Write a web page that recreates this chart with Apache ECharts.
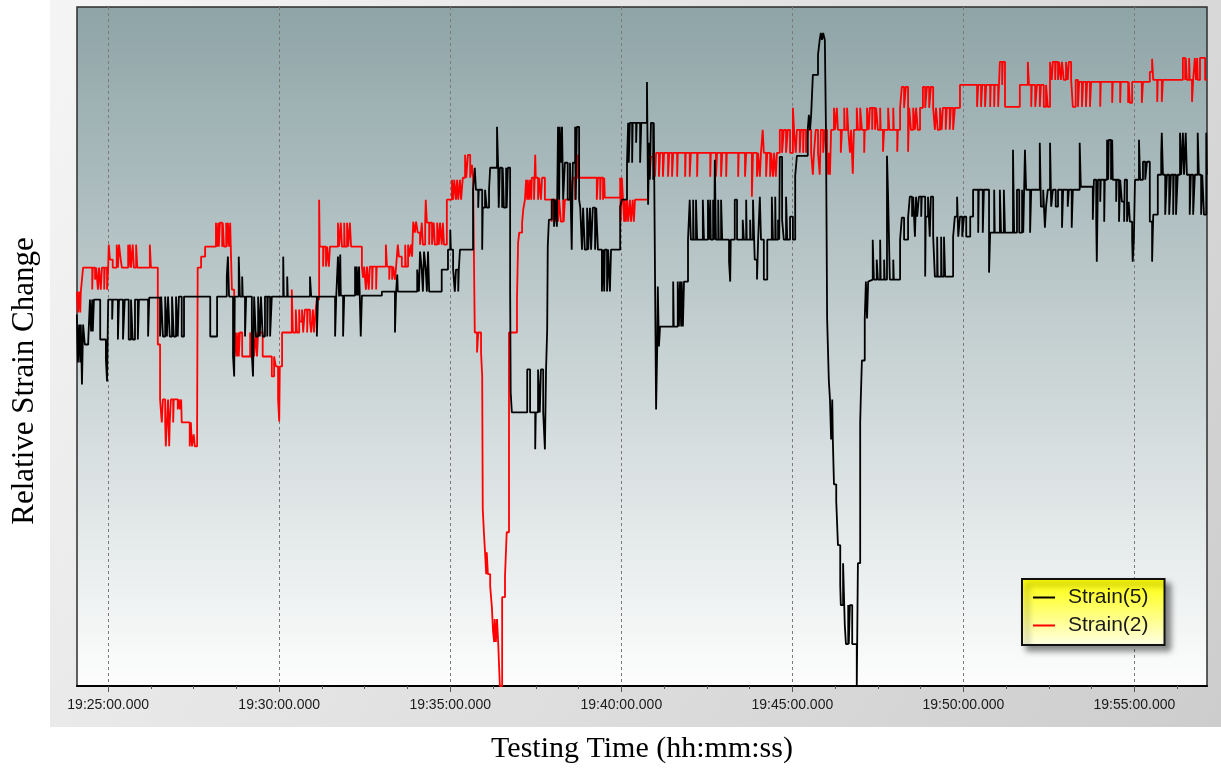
<!DOCTYPE html>
<html>
<head>
<meta charset="utf-8">
<script src="https://cdn.jsdelivr.net/npm/echarts@6/dist/echarts.min.js"></script>
<style>
  html, body { margin: 0; padding: 0; background: #ffffff; }
  #chart { width: 1221px; height: 769px; }
</style>
</head>
<body>
<div id="chart"></div>
<script>
// Strain gauge logs: each entry is [seconds after 19:24:00, relative strain reading].
// Readings hold until the next entry (sample-and-hold logger output).
const strain5 = [
[5,372],[7,324],[9,362],[11,324],[12,362],[14,302],[16,362],[19,342],[25,345],[28,387],[30,355],[32,387],[33,355],[35,387],
[46,347],[56,327],[58,305],[60,387],[67,367],[68,387],[77,347],[79,387],[86,347],[89,387],[96,347],[100,387],[103,347],
[107,387],[112,347],[114,387],[130,350],[132,389],[151,350],[153,390],[156,350],[160,390],[163,350],[165,390],[168,350],
[172,390],[175,350],[179,390],[182,350],[184,390],[189,350],[193,390],[239,350],[251,390],[268,410],[270,430],[272,390],
[279,330],[281,310],[282,390],[289,430],[291,390],[295,410],[296,390],[300,350],[302,390],[312,332],[314,310],[316,390],
[319,350],[323,390],[326,350],[328,390],[331,350],[335,390],[339,350],[340,390],[344,350],[347,390],[367,430],[368,390],
[374,410],[375,390],[414,410],[416,390],[426,350],[428,390],[458,350],[460,390],[463,430],[465,390],[467,432],[468,391],
[472,350],[474,391],[493,420],[495,391],[496,420],[498,391],[500,420],[503,350],[505,391],[540,395],[563,354],[565,395],
[567,412],[568,395],[602,417],[605,395],[607,435],[610,417],[612,395],[614,435],[617,417],[619,395],[621,435],[623,395],
[645,417],[656,437],[660,457],[661,437],[665,417],[668,395],[670,417],[674,395],[675,417],[677,437],[700,497],[703,519],
[705,497],[709,479],[710,497],[716,437],[717,479],[721,497],[724,479],[728,497],[730,519],[742,560],[744,519],[745,479],
[747,519],[751,479],[752,519],[754,479],[758,519],[759,479],[761,519],[765,397],[766,294],[768,274],[795,317],[800,274],
[809,237],[810,274],[814,317],[817,274],[819,317],[823,274],[826,237],[828,317],[830,357],[831,440],[833,467],[838,487],
[842,460],[844,487],[847,460],[849,560],[851,487],[852,560],[854,524],[856,560],[858,487],[861,524],[866,487],[870,524],
[873,437],[875,524],[879,560],[880,487],[882,560],[886,487],[888,479],[891,437],[893,479],[896,437],[900,479],[902,437],
[905,479],[907,437],[910,479],[914,437],[916,479],[919,437],[926,395],[928,437],[930,395],[931,437],[935,395],[937,437],
[940,395],[942,437],[958,480],[961,487],[970,524],[972,564],[973,524],[975,564],[979,524],[980,564],[986,544],[987,564],
[993,524],[995,564],[1005,605],[1007,482],[1009,544],[1010,507],[1012,564],[1016,507],[1017,564],[1019,420],[1021,277],
[1023,340],[1024,400],[1026,340],[1028,360],[1051,405],[1052,360],[1059,405],[1061,360],[1063,405],[1065,360],[1066,405],
[1068,360],[1070,405],[1077,447],[1080,487],[1082,447],[1086,487],[1087,447],[1091,487],[1093,447],[1103,487],[1105,447],
[1112,487],[1114,447],[1116,487],[1117,447],[1121,487],[1123,447],[1124,527],[1126,447],[1130,487],[1131,447],[1135,487],
[1137,447],[1149,425],[1151,405],[1152,447],[1159,487],[1163,447],[1173,467],[1175,447],[1179,487],[1180,447],[1186,467],
[1187,447],[1191,487],[1193,447],[1194,427],[1198,407],[1200,447],[1203,490],[1205,447],[1210,407],[1216,447],[1224,490],
[1226,447],[1230,490],[1231,447],[1235,467],[1237,447],[1238,530],[1242,467],[1245,447],[1249,490],[1251,447],[1256,470],
[1261,447],[1265,511],[1268,531],[1287,557],[1289,572],[1291,557],[1293,572],[1296,612],[1305,632],[1308,647],[1310,654],
[1312,647],[1314,654],[1317,647],[1319,555],[1321,368],[1324,306],[1326,287],[1328,247],[1330,287],[1331,247],[1333,202],
[1337,185],[1340,141],[1344,101],[1345,81],[1349,123],[1351,81],[1352,61],[1354,42],[1358,81],[1359,42],[1361,81],
[1365,42],[1373,0],[1375,123],[1379,264],[1380,287],[1382,326],[1387,368],[1389,405],[1391,368],[1393,405],[1396,407],
[1401,447],[1403,407],[1408,427],[1410,407],[1414,447],[1415,407],[1421,427],[1422,407],[1426,531],[1428,489],[1431,407],
[1437,427],[1438,407],[1449,447],[1452,469],[1456,447],[1463,469],[1466,490],[1470,470],[1472,490],[1475,450],[1477,490],
[1479,470],[1482,490],[1486,470],[1487,490],[1493,410],[1494,470],[1498,490],[1501,450],[1503,490],[1507,450],[1510,410],
[1514,450],[1515,410],[1521,450],[1522,410],[1526,450],[1528,410],[1542,450],[1545,470],[1549,490],[1551,450],[1554,470],
[1558,450],[1561,470],[1565,450],[1572,470],[1577,497],[1586,454],[1587,497],[1594,454],[1596,497],[1605,414],[1607,454],
[1614,497],[1615,454],[1624,497],[1626,454],[1631,497],[1633,454],[1647,537],[1649,454],[1654,497],[1658,454],[1663,497],
[1665,454],[1668,537],[1670,497],[1677,454],[1679,497],[1694,544],[1696,480],[1700,497],[1703,459],[1705,480],[1708,497],
[1712,544],[1714,480],[1717,497],[1722,480],[1726,497],[1733,459],[1735,497],[1743,480],[1745,497],[1750,459],[1752,497],
[1764,544],[1766,500],[1787,467],[1789,507],[1793,467],[1794,425],[1796,507],[1800,485],[1801,507],[1807,465],[1808,507],
[1812,547],[1814,507],[1815,547],[1819,507],[1821,547],[1822,507],[1828,485],[1829,507],[1833,465],[1835,507],[1838,485],
[1842,465],[1843,507],[1847,465],[1850,485],[1852,465],[1856,447],[1857,425],[1859,447],[1861,507],[1868,547],[1870,507],
[1875,525],[1879,507],[1882,525],[1887,465],[1891,425],[1893,472],[1901,512],[1907,532],[1908,554],[1910,512],[1914,472],
[1917,512],[1921,472],[1924,512],[1928,472],[1929,512],[1933,472],[1936,512],[1940,554],[1942,512],[1945,554],[1947,512],
[1950,554],[1952,512],[1957,472],[1959,512],[1963,472],[1966,512],[1971,554],[1973,512],[1977,472],[1979,512],[1982,472],
[1986,554],[1987,512]
];

const strain2 = [
[5,395],[7,374],[9,395],[11,374],[12,395],[14,407],[16,419],[32,397],[33,419],[37,407],[39,419],[42,397],[44,419],[47,397],
[49,419],[53,397],[54,419],[58,397],[60,419],[61,442],[63,427],[68,419],[75,442],[77,419],[79,442],[82,427],[84,419],
[95,442],[96,419],[98,442],[100,419],[103,442],[105,419],[109,442],[111,419],[133,442],[135,419],[147,342],[151,287],
[154,264],[156,287],[160,264],[161,240],[163,264],[165,287],[167,240],[168,264],[170,287],[174,264],[175,287],[182,277],
[184,287],[186,277],[188,287],[189,264],[203,240],[205,264],[207,240],[210,252],[212,240],[216,264],[217,419],[223,430],
[230,440],[249,464],[251,440],[253,464],[254,440],[256,464],[260,440],[261,464],[263,440],[267,464],[268,440],[270,464],
[272,440],[274,464],[275,440],[277,397],[281,354],[282,330],[284,354],[286,330],[288,354],[289,330],[291,354],[295,330],
[309,354],[310,330],[314,354],[316,330],[319,354],[321,330],[323,354],[331,330],[347,310],[351,330],[354,320],[358,287],
[360,265],[361,320],[365,354],[382,397],[384,354],[389,377],[391,354],[395,377],[396,365],[400,377],[402,354],[405,377],
[409,354],[410,377],[414,365],[416,354],[419,377],[421,354],[424,377],[426,387],[430,487],[431,440],[437,420],[438,440],
[442,420],[444,440],[447,420],[449,440],[463,464],[465,440],[468,464],[470,440],[474,464],[475,440],[479,464],[481,440],
[484,464],[486,440],[505,420],[507,409],[509,420],[512,397],[514,420],[517,397],[519,420],[523,397],[524,420],[530,397],
[531,420],[547,442],[549,420],[553,407],[554,420],[558,407],[560,420],[563,407],[565,420],[568,442],[570,430],[575,420],
[581,442],[582,420],[586,442],[588,430],[591,442],[593,430],[595,465],[598,454],[600,465],[603,454],[607,442],[610,464],
[612,442],[616,464],[617,487],[619,464],[623,442],[624,464],[628,442],[631,464],[633,442],[637,464],[640,442],[642,464],
[645,442],[647,464],[649,442],[654,487],[663,507],[665,487],[667,507],[670,487],[672,507],[674,487],[677,507],[679,487],
[682,509],[686,532],[688,509],[691,532],[695,509],[698,522],[700,509],[703,354],[707,334],[709,354],[714,334],[716,310],
[717,177],[719,154],[721,134],[723,112],[724,134],[726,112],[730,100],[733,79],[735,55],[737,44],[738,67],[740,44],
[742,67],[744,44],[747,0],[751,89],[756,110],[759,154],[763,354],[777,387],[779,444],[781,454],[786,464],[788,477],
[791,487],[793,507],[795,487],[796,507],[798,487],[800,507],[802,487],[803,509],[807,487],[809,532],[810,509],[814,487],
[816,509],[819,487],[821,509],[826,487],[838,465],[840,487],[844,465],[845,487],[849,465],[851,487],[854,465],[858,487],
[859,465],[861,487],[870,509],[872,487],[875,509],[879,487],[880,509],[884,532],[886,509],[917,487],[919,509],[923,487],
[924,509],[928,487],[930,509],[931,489],[958,509],[959,465],[961,509],[963,487],[965,465],[966,487],[968,465],[970,487],
[972,465],[975,487],[977,465],[980,487],[982,465],[984,487],[1007,510],[1009,530],[1010,510],[1012,530],[1016,534],
[1019,510],[1021,534],[1026,510],[1028,534],[1033,510],[1035,534],[1042,510],[1044,534],[1049,510],[1051,534],[1058,510],
[1059,534],[1072,510],[1073,534],[1080,510],[1082,534],[1093,510],[1094,534],[1116,510],[1117,534],[1126,510],[1128,534],
[1135,510],[1137,534],[1144,510],[1145,534],[1165,510],[1166,534],[1177,510],[1179,534],[1189,490],[1191,534],[1198,510],
[1200,534],[1203,510],[1205,534],[1208,557],[1210,534],[1214,510],[1216,534],[1221,510],[1223,534],[1226,510],[1228,534],
[1231,510],[1233,534],[1238,557],[1242,534],[1245,557],[1249,534],[1252,557],[1256,534],[1261,579],[1263,557],[1266,534],
[1268,557],[1273,534],[1275,557],[1279,534],[1280,557],[1284,534],[1287,557],[1293,534],[1296,512],[1298,534],[1301,557],
[1305,534],[1308,512],[1310,557],[1314,534],[1317,557],[1321,534],[1323,512],[1324,534],[1326,512],[1328,557],[1333,579],
[1335,557],[1338,579],[1340,557],[1345,534],[1347,557],[1351,579],[1352,557],[1356,579],[1358,557],[1361,534],[1363,557],
[1366,513],[1368,557],[1373,579],[1375,557],[1379,579],[1382,557],[1386,534],[1387,557],[1391,579],[1394,557],[1396,579],
[1400,557],[1401,579],[1405,557],[1407,579],[1410,557],[1414,579],[1415,557],[1419,535],[1421,557],[1428,579],[1430,557],
[1437,579],[1438,557],[1444,535],[1445,557],[1449,579],[1452,600],[1456,579],[1459,600],[1463,535],[1465,579],[1468,557],
[1472,579],[1475,557],[1477,579],[1480,557],[1484,579],[1489,600],[1493,579],[1496,600],[1500,579],[1503,600],[1507,579],
[1510,557],[1512,579],[1515,557],[1519,579],[1522,557],[1524,579],[1529,557],[1531,579],[1536,557],[1538,579],[1542,557],
[1545,579],[1554,602],[1584,580],[1586,602],[1591,580],[1593,602],[1598,580],[1600,602],[1607,580],[1608,602],[1614,580],
[1615,602],[1621,580],[1624,625],[1628,602],[1629,625],[1633,580],[1659,602],[1673,625],[1675,602],[1679,580],[1680,602],
[1686,580],[1689,602],[1694,580],[1696,602],[1701,580],[1705,602],[1708,580],[1712,625],[1715,607],[1717,625],[1721,607],
[1722,625],[1726,607],[1728,625],[1731,607],[1733,625],[1736,607],[1740,625],[1743,607],[1745,625],[1749,607],[1752,580],
[1757,607],[1761,580],[1763,605],[1768,580],[1770,605],[1775,580],[1777,605],[1782,580],[1784,605],[1800,580],[1801,605],
[1821,584],[1822,605],[1835,584],[1836,605],[1849,584],[1850,605],[1852,584],[1856,605],[1873,584],[1875,605],[1887,615],
[1891,628],[1893,607],[1900,585],[1901,607],[1908,585],[1910,607],[1945,629],[1949,607],[1950,629],[1952,607],[1956,629],
[1957,607],[1961,585],[1963,607],[1966,629],[1968,607],[1970,629],[1971,607],[1975,629],[1984,607],[1987,607]
];

const seriesNames = ['Strain(5)', 'Strain(2)'];
const xTitle = 'Testing Time (hh:mm:ss)';
const yTitle = 'Relative Strain Change';

// Time axis runs in minutes past 19:00; labelled every 5 min, minor ticks every 1.25 min
const majorTickMinutes = [25, 30, 35, 40, 45, 50, 55];
const minorTickMinutes = [26.25, 27.5, 28.75, 31.25, 32.5, 33.75, 36.25, 37.5, 38.75, 41.25, 42.5, 43.75,
                          46.25, 47.5, 48.75, 51.25, 52.5, 53.75, 56.25];
const logStartMinute = 24;          // log seconds are counted from 19:24:00
const windowStartSec = 5.3;         // visible window, seconds after 19:24:00
const windowEndSec = 1987.3;
const strainMin = 0;
const strainMax = 680;

const toMinutes = s => logStartMinute + s / 60;
const toSeries = arr => arr.map(p => [toMinutes(p[0]), p[1]]);
const pad = (n, w) => String(n).padStart(w, '0');
function clockLabel(v) {
  const totalMs = Math.round(v * 60000);
  const m = Math.floor(totalMs / 60000);
  const s = Math.floor((totalMs % 60000) / 1000);
  const ms = totalMs % 1000;
  return '19:' + pad(m, 2) + ':' + pad(s, 2) + '.' + pad(ms, 3);
}

const chart = echarts.init(document.getElementById('chart'), null, { renderer: 'canvas' });

const xExtent = { min: toMinutes(windowStartSec), max: toMinutes(windowEndSec) };

const option = {
  animation: false,
  backgroundColor: '#ffffff',
  graphic: [
    {
      type: 'rect', z: -10, silent: true,
      shape: { x: 50, y: 0, width: 1171, height: 727 },
      style: {
        fill: new echarts.graphic.LinearGradient(0, 0, 1, 1, [
          { offset: 0, color: '#f5f5f5' },
          { offset: 1, color: '#cdcdcd' }
        ])
      }
    },
    {
      type: 'text', x: 25, y: 381, rotation: Math.PI / 2, silent: true,
      style: {
        text: yTitle, fontFamily: 'Liberation Serif', fontSize: 31,
        fill: '#000000', align: 'center', verticalAlign: 'middle'
      }
    }
  ],
  grid: {
    left: 77, right: 14, top: 7, bottom: 82,
    show: true,
    borderColor: '#2e2e2e',
    borderWidth: 1.5,
    backgroundColor: new echarts.graphic.LinearGradient(0, 0, 0, 1, [
      { offset: 0, color: '#8ea4a7' },
      { offset: 0.5, color: '#c6d1d2' },
      { offset: 1, color: '#fdfdfd' }
    ])
  },
  legend: {
    data: seriesNames,
    orient: 'vertical',
    left: 1022, top: 579,
    icon: 'rect',
    itemWidth: 22, itemHeight: 2,
    itemGap: 7,
    padding: [8, 16, 9, 11],
    backgroundColor: new echarts.graphic.LinearGradient(0, 0, 0, 1, [
      { offset: 0, color: '#ffff00' },
      { offset: 1, color: '#ffffe6' }
    ]),
    borderColor: '#111111',
    borderWidth: 2,
    shadowColor: 'rgba(0,0,0,0.45)',
    shadowBlur: 6,
    shadowOffsetX: 5,
    shadowOffsetY: 5,
    textStyle: {
      fontFamily: 'Liberation Sans', fontSize: 21, color: '#1a1a1a',
      padding: [0, 0, 0, 8]
    }
  },
  xAxis: [
    {
      type: 'value',
      min: xExtent.min, max: xExtent.max,
      name: xTitle,
      nameLocation: 'middle',
      nameGap: 48,
      nameTextStyle: { fontFamily: 'Liberation Serif', fontSize: 30, color: '#000000' },
      axisLine: { onZero: false, lineStyle: { color: '#000000', width: 2 } },
      axisTick: { customValues: majorTickMinutes, length: 6, lineStyle: { color: '#555555' } },
      splitLine: { show: true, lineStyle: { color: '#7a7a7a', type: [3, 3], width: 1 } },
      axisLabel: {
        customValues: majorTickMinutes,
        formatter: clockLabel,
        fontFamily: 'Liberation Sans', fontSize: 14, color: '#1a1a1a', margin: 12
      }
    },
    {
      type: 'value',
      min: xExtent.min, max: xExtent.max,
      position: 'bottom',
      axisLine: { show: false },
      axisTick: { customValues: minorTickMinutes, length: 3, lineStyle: { color: '#555555' } },
      axisLabel: { show: false },
      splitLine: { show: false }
    }
  ],
  yAxis: {
    type: 'value',
    min: strainMin, max: strainMax,
    axisLine: { show: false },
    axisTick: { show: false },
    axisLabel: { show: false },
    splitLine: { show: false }
  },
  series: [
    {
      name: seriesNames[1], type: 'line', step: 'end', xAxisIndex: 0,
      data: toSeries(strain2), showSymbol: false,
      lineStyle: { color: '#ff0000', width: 1.8 }, itemStyle: { color: '#ff0000' }
    },
    {
      name: seriesNames[0], type: 'line', step: 'end', xAxisIndex: 0,
      data: toSeries(strain5), showSymbol: false,
      lineStyle: { color: '#000000', width: 1.8 }, itemStyle: { color: '#000000' }
    }
  ]
};

chart.setOption(option);
</script>
</body>
</html>
